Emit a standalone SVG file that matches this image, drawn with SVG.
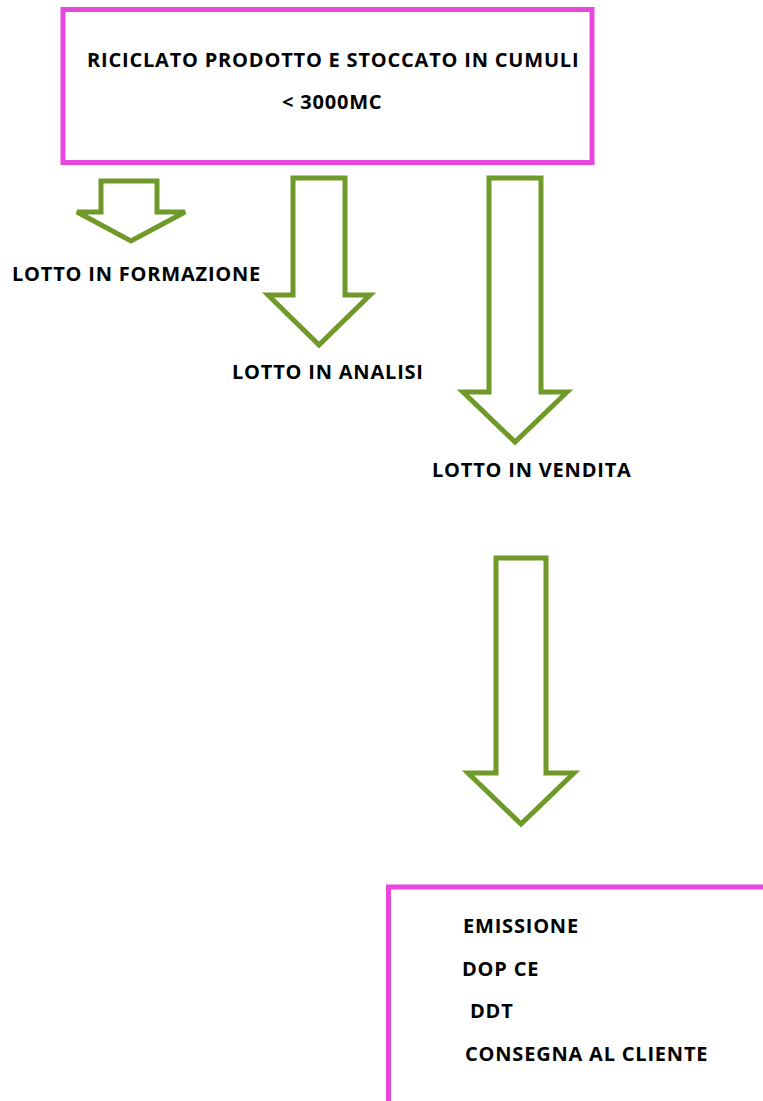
<svg xmlns="http://www.w3.org/2000/svg" width="763" height="1101" viewBox="0 0 763 1101">
<style>
.box{fill:#fff;stroke:#e846dc;stroke-width:5}
.arr{fill:#fff;stroke:#6f9a29;stroke-width:5;stroke-linejoin:miter}
.t{font-family:"Open Sans","Noto Sans",sans-serif;font-weight:bold;font-size:20px;letter-spacing:0.8px;fill:#000}
</style>
<rect width="763" height="1101" fill="#fff"/>
<g id="node-top">
<rect class="box" x="63" y="9.5" width="529" height="153"/>
<text class="t" x="87" y="67">RICICLATO PRODOTTO E STOCCATO IN CUMULI</text>
<text class="t" x="282" y="109">&lt; 3000MC</text>
</g>
<g id="connectors">
<polygon class="arr" points="101,181 157,181 157,212 185,212 131,241 77,212 101,212"/>
<polygon class="arr" points="293,178 345,178 345,295 370,295 319,345 268,295 293,295"/>
<polygon class="arr" points="489,178 541,178 541,392 567,392 515,442 463,392 489,392"/>
<polygon class="arr" points="496,558 546,558 546,773 574,773 521,824 468,773 496,773"/>
</g>
<g id="label-formazione"><text class="t" x="12" y="281">LOTTO IN FORMAZIONE</text></g>
<g id="label-analisi"><text class="t" x="232" y="379">LOTTO IN ANALISI</text></g>
<g id="label-vendita"><text class="t" x="432" y="477">LOTTO IN VENDITA</text></g>
<g id="node-bottom">
<path class="box" d="M388.5,1101 V887 H763"/>
<text class="t" x="463" y="933">EMISSIONE</text>
<text class="t" x="462" y="976">DOP CE</text>
<text class="t" x="470" y="1018">DDT</text>
<text class="t" x="465" y="1061">CONSEGNA AL CLIENTE</text>
</g>
</svg>
